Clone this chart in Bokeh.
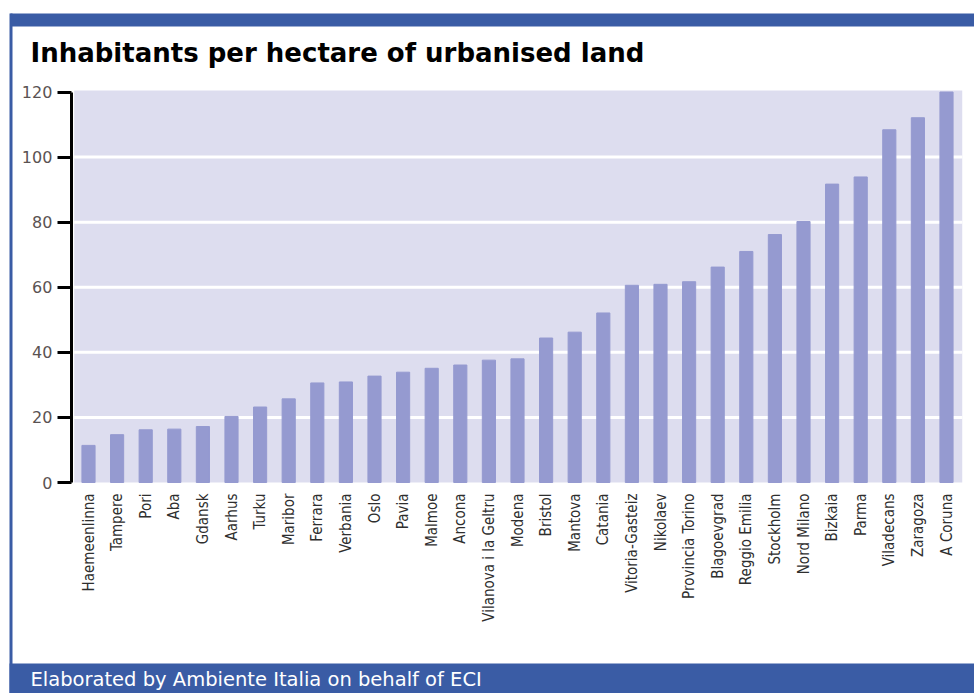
import math
from bokeh.plotting import figure
from bokeh.models import FixedTicker, Label, BoxAnnotation, Range1d
from bokeh.embed import file_html
from bokeh.resources import INLINE

cities = ["Haemeenlinna", "Tampere", "Pori", "Aba", "Gdansk", "Aarhus", "Turku",
          "Maribor", "Ferrara", "Verbania", "Oslo", "Pavia", "Malmoe", "Ancona",
          "Vilanova i la Geltru", "Modena", "Bristol", "Mantova", "Catania",
          "Vitoria-Gasteiz", "Nikolaev", "Provincia Torino", "Blagoevgrad",
          "Reggio Emilia", "Stockholm", "Nord Milano", "Bizkaia", "Parma",
          "Viladecans", "Zaragoza", "A Coruna"]
density = [11.4, 14.7, 16.2, 16.4, 17.2, 20.3, 23.2, 25.7, 30.6, 30.9, 32.7,
           33.9, 35.1, 36.1, 37.6, 38.0, 44.4, 46.2, 52.1, 60.6, 60.9, 61.7,
           66.2, 71.0, 76.2, 80.2, 91.7, 93.9, 108.4, 112.1, 120.0]
y_ticks = [0, 20, 40, 60, 80, 100, 120]

title_text = "Inhabitants per hectare of urbanised land"
source_text = "Elaborated by Ambiente Italia on behalf of ECI"

BLUE = "#3A5CA5"
W, H = 974, 693

# layout of the plotting area inside the canvas (pixels)
AREA_LEFT, SLOT = 73.7, 28.6        # left edge of the category area, width of one slot
ZERO_Y, PX_PER_UNIT = 482.0, 3.254  # pixel row of value 0, pixels per unit

n = len(cities)
xs = list(range(n))
x_start = -AREA_LEFT / SLOT - 0.5
x_end = (W - AREA_LEFT) / SLOT - 0.5
y_start = -(H - ZERO_Y) / PX_PER_UNIT
y_end = ZERO_Y / PX_PER_UNIT

p = figure(width=W, height=H, output_backend="svg", toolbar_location=None,
           x_range=Range1d(x_start, x_end), y_range=Range1d(y_start, y_end),
           min_border=0, min_border_left=0, min_border_right=0,
           min_border_top=0, min_border_bottom=0)
p.extra_x_ranges = {"px": Range1d(0, W)}
p.extra_y_ranges = {"px": Range1d(H, 0)}
p.background_fill_color = "white"
p.border_fill_color = "white"
p.outline_line_color = None
p.grid.visible = False

# plotting area background
p.add_layout(BoxAnnotation(left=-0.5, right=30.55, bottom=0, top=120.5,
                           fill_color="#DDDDEF", fill_alpha=1, line_color=None,
                           level="image"))
# horizontal white grid lines
grid_vals = [t for t in y_ticks if 0 < t < 120]
p.segment(x0=[-0.5] * len(grid_vals), x1=[30.55] * len(grid_vals),
          y0=grid_vals, y1=grid_vals, line_color="white", line_width=3,
          level="underlay")

p.vbar(x=xs, top=density, width=0.46, color="#959AD0")

# y axis
yax = p.yaxis[0]
yax.fixed_location = -0.6
yax.bounds = (0, 120)
yax.ticker = FixedTicker(ticks=y_ticks)
yax.axis_line_color = "black"
yax.axis_line_width = 3
yax.major_tick_line_color = "black"
yax.major_tick_line_width = 3
yax.major_tick_out = 14
yax.major_tick_in = 0
yax.minor_tick_line_color = None
yax.major_label_standoff = 5
yax.major_label_text_font = "DejaVu Sans"
yax.major_label_text_font_size = "16px"
yax.major_label_text_color = "#5a5252"

# x axis with city names
xax = p.xaxis[0]
xax.fixed_location = 0
xax.bounds = (-0.5, 30.5)
xax.ticker = FixedTicker(ticks=xs)
xax.major_label_overrides = {i: c for i, c in enumerate(cities)}
xax.axis_line_color = None
xax.major_tick_line_color = None
xax.minor_tick_line_color = None
xax.major_label_orientation = math.pi / 2
xax.major_label_standoff = 5
xax.major_label_text_font = "DejaVu Sans Condensed"
xax.major_label_text_font_size = "15px"
xax.major_label_text_color = "#2e2e2e"

# frame decoration in pixel coordinates
p.quad(left=[10, 9, 9], right=[W, 12, W], top=[13, 13, 663], bottom=[26, H, H],
       x_range_name="px", y_range_name="px", fill_color=BLUE, line_color=None)

p.add_layout(Label(x=30, y=52, x_range_name="px", y_range_name="px",
                   text=title_text, text_font="DejaVu Sans",
                   text_font_style="bold", text_font_size="26px",
                   text_color="black", text_baseline="alphabetic"))
p.add_layout(Label(x=30, y=679, x_range_name="px", y_range_name="px",
                   text=source_text, text_font="DejaVu Sans",
                   text_font_size="19.5px", text_color="white",
                   text_baseline="alphabetic"))

open("out.html", "w").write(file_html(p, INLINE))
